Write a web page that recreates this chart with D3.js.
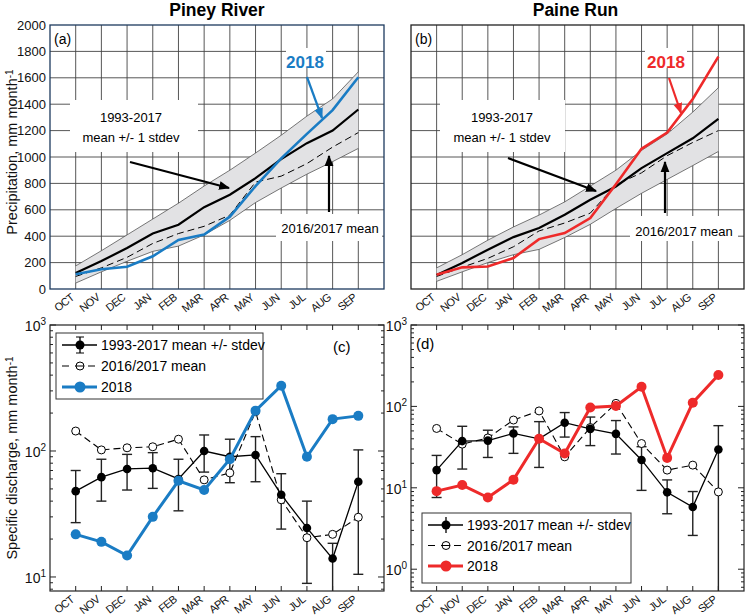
<!DOCTYPE html>
<html>
<head>
<meta charset="utf-8">
<script src="https://cdn.jsdelivr.net/npm/d3@7"></script>
<style>
  body { margin: 0; background: #fff; }
  svg { display: block; font-family: "Liberation Sans", Arial, sans-serif; }
</style>
</head>
<body>
<div id="chart"></div>
<script>
var months = ["OCT","NOV","DEC","JAN","FEB","MAR","APR","MAY","JUN","JUL","AUG","SEP"];

// cumulative precipitation, mm
var pineyMean = [121, 212, 310, 420, 487, 620, 714, 840, 984, 1105, 1200, 1360];
var pineyUp   = [175, 290, 410, 530, 650, 780, 900, 1030, 1165, 1310, 1440, 1645];
var pineyLo   = [45, 130, 210, 285, 325, 410, 520, 655, 765, 870, 965, 1065];
var piney1617 = [95, 160, 240, 345, 420, 475, 560, 810, 855, 950, 1075, 1185];
var piney2018 = [112, 150, 168, 248, 372, 412, 548, 780, 990, 1175, 1355, 1604];

var paineMean = [106, 197, 298, 393, 462, 562, 676, 777, 916, 1029, 1142, 1289];
var paineUp   = [160, 260, 370, 470, 560, 660, 780, 900, 1050, 1175, 1340, 1525];
var paineLo   = [58, 130, 200, 260, 300, 390, 490, 610, 725, 830, 935, 1042];
var paine1617 = [95, 165, 232, 320, 440, 500, 575, 790, 880, 1010, 1110, 1200];
var paine2018 = [108, 164, 171, 235, 378, 424, 537, 794, 1062, 1185, 1440, 1760];

// specific discharge, mm/month
var pineyQMean = [48, 62, 72, 73, 60, 100, 90, 93, 45, 24.5, 14, 57];
var pineyQHi   = [70, 86, 94, 97, 86, 134, 124, 130, 66, 40, 18.5, 102];
var pineyQLo   = [27, 40, 49, 50.5, 33.5, 68, 56, 57, 24, 8.9, 6, 10.5];
var pineyQ1617 = [144, 102, 106, 108, 124, 59, 67, 205, 41, 20.5, 21.8, 29.8];
var pineyQ2018 = [21.8, 19, 14.8, 30, 58, 49, 86, 209, 330, 90, 179, 190];

var paineQMean = [16.5, 37.5, 38, 46.5, 40, 63, 53, 46, 22, 8.8, 5.8, 29.5];
var paineQHi   = [25, 57, 51, 56, 65, 84, 74, 67, 32, 12.5, 9, 58];
var paineQLo   = [7.6, 17, 23.6, 26.5, 17.8, 42, 33, 26, 9.3, 4.8, 2.6, 0.3];
var paineQ1617 = [53.6, 34.4, 41, 68, 88, 24, 55, 109, 35, 16.5, 19, 8.9];
var paineQ2018 = [9.1, 10.8, 7.6, 12.6, 40, 26.4, 97, 101, 174, 23.3, 111, 243];

var precipTicks = d3.range(0, 2001, 200);
var blue = "#1a7cc4", red = "#ee2a2a";

var svg = d3.select("#chart").append("svg")
  .attr("width", 746).attr("height", 616);

var defs = svg.append("defs");

function monthAxis(g, x, y0) {
  g.selectAll(".mlab")
    .data(months)
    .enter().append("text")
      .attr("class", "mlab")
      .attr("transform", function(d, i) { return "translate(" + (x(i + 1) - 1) + "," + (y0 + 10) + ") rotate(-38)"; })
      .attr("text-anchor", "end")
      .attr("font-size", "11px")
      .attr("letter-spacing", "-0.7px")
      .attr("fill", "#111")
      .text(function(d) { return d; });
}

function precipPanel(o) {
  var x = d3.scaleLinear().domain([0, 13]).range([o.left, o.right]);
  var y = d3.scaleLinear().domain([0, 2000]).range([o.bottom, o.top]);
  var g = svg.append("g");

  // grid
  g.selectAll(".hg").data(precipTicks.slice(1, -1)).enter().append("line")
    .attr("x1", o.left).attr("x2", o.right)
    .attr("y1", function(d) { return y(d); }).attr("y2", function(d) { return y(d); })
    .attr("stroke", "#444").attr("stroke-width", 0.9);
  g.selectAll(".vg").data(d3.range(1, 13)).enter().append("line")
    .attr("y1", o.top).attr("y2", o.bottom)
    .attr("x1", function(d) { return x(d); }).attr("x2", function(d) { return x(d); })
    .attr("stroke", "#444").attr("stroke-width", 0.9);

  // white boxes behind annotations
  o.boxes.forEach(function(b) {
    g.append("rect").attr("x", b[0]).attr("y", b[1]).attr("width", b[2]).attr("height", b[3]).attr("fill", "#fff");
  });

  var idx = d3.range(12);
  var band = d3.area()
    .x(function(i) { return x(i + 1); })
    .y0(function(i) { return y(o.lo[i]); })
    .y1(function(i) { return y(o.up[i]); });
  g.append("path").datum(idx).attr("d", band).attr("fill", "#e2e2e4");
  [o.lo, o.up].forEach(function(s) {
    g.append("path").datum(idx)
      .attr("d", d3.line().x(function(i) { return x(i + 1); }).y(function(i) { return y(s[i]); }))
      .attr("fill", "none").attr("stroke", "#555").attr("stroke-width", 0.8);
  });
  g.append("path").datum(idx)
    .attr("d", d3.line().x(function(i) { return x(i + 1); }).y(function(i) { return y(o.mean[i]); }))
    .attr("fill", "none").attr("stroke", "#000").attr("stroke-width", 2.2);
  g.append("path").datum(idx)
    .attr("d", d3.line().x(function(i) { return x(i + 1); }).y(function(i) { return y(o.prev[i]); }))
    .attr("fill", "none").attr("stroke", "#000").attr("stroke-width", 1).attr("stroke-dasharray", "7,4");
  g.append("path").datum(idx)
    .attr("d", d3.line().x(function(i) { return x(i + 1); }).y(function(i) { return y(o.cur[i]); }))
    .attr("fill", "none").attr("stroke", o.color).attr("stroke-width", 2.6);

  // frame
  g.append("rect").attr("x", o.left).attr("y", o.top)
    .attr("width", o.right - o.left).attr("height", o.bottom - o.top)
    .attr("fill", "none").attr("stroke", o.frame).attr("stroke-width", 1.3);

  if (o.yLabels) {
    var ax = g.append("g").attr("transform", "translate(" + o.left + ",0)")
      .call(d3.axisLeft(y).tickValues(precipTicks).tickFormat(d3.format("d")).tickSize(0).tickPadding(4));
    ax.select(".domain").remove();
    ax.selectAll("text").attr("font-size", "13px").attr("fill", "#111")
      .attr("font-family", "\"Liberation Sans\", Arial, sans-serif");
    var yl = svg.append("text")
      .attr("transform", "translate(17," + ((o.top + o.bottom) / 2 - 5) + ") rotate(-90)")
      .attr("text-anchor", "middle").attr("font-size", "14.5px").attr("fill", "#111");
    yl.append("tspan").text("Precipitation, mm month");
    yl.append("tspan").attr("dy", "-0.45em").attr("font-size", "10px").text("-1");
  }
  monthAxis(g, x, o.bottom);

  g.append("text").attr("x", (o.left + o.right) / 2 + o.titleDx).attr("y", 16)
    .attr("text-anchor", "middle").attr("font-size", "17.5px").attr("font-weight", "bold")
    .text(o.title);
  g.append("text").attr("x", o.left + 4).attr("y", o.top + 19)
    .attr("font-size", "14px").text(o.tag);

  // annotations
  var a = o.ann;
  g.append("text").attr("x", a.tx).attr("y", a.ty).attr("text-anchor", "middle")
    .attr("font-size", "13px").text("1993-2017");
  g.append("text").attr("x", a.tx).attr("y", a.ty + 20).attr("text-anchor", "middle")
    .attr("font-size", "13px").text("mean +/- 1 stdev");
  g.append("text").attr("x", a.px).attr("y", a.py).attr("text-anchor", "middle")
    .attr("font-size", "13px").text("2016/2017 mean");
  g.append("text").attr("x", a.cx).attr("y", a.cy).attr("text-anchor", "middle")
    .attr("font-size", "17px").attr("font-weight", "bold").attr("fill", o.color).text("2018");
  arrow(g, a.a1, "#000", 2.2);
  arrow(g, a.a2, "#000", 2.2);
  arrow(g, a.a3, o.color, 2.2);
}

function arrow(g, p, color, w) {
  var id = "ah" + Math.round(p[0]) + "_" + Math.round(p[1]);
  defs.append("marker").attr("id", id).attr("viewBox", "0 0 10 10").attr("refX", 9).attr("refY", 5)
    .attr("markerWidth", 5).attr("markerHeight", 5).attr("markerUnits", "strokeWidth").attr("orient", "auto")
    .append("path").attr("d", "M0,1 L10,5 L0,9 Z").attr("fill", color);
  g.append("line").attr("x1", p[0]).attr("y1", p[1]).attr("x2", p[2]).attr("y2", p[3])
    .attr("stroke", color).attr("stroke-width", w).attr("marker-end", "url(#" + id + ")");
}

function flowPanel(o) {
  var x = d3.scaleLinear().domain([0, 13]).range([o.left, o.right]);
  var y = d3.scaleLog().domain(o.domain).range([o.bottom, o.top]);
  var g = svg.append("g");
  var cid = "clip" + o.tag.replace(/\W/g, "");
  defs.append("clipPath").attr("id", cid).append("rect")
    .attr("x", o.left).attr("y", o.top).attr("width", o.right - o.left).attr("height", o.bottom - o.top);
  var pg = g.append("g").attr("clip-path", "url(#" + cid + ")");
  var idx = d3.range(12);

  // ticks, major + minor
  var minor = [];
  var lo = Math.floor(Math.log10(o.domain[0])), hi = Math.ceil(Math.log10(o.domain[1]));
  for (var e = lo; e < hi; e++) for (var k = 1; k < 10; k++) {
    var v = k * Math.pow(10, e);
    if (v >= o.domain[0] && v <= o.domain[1]) minor.push(v);
  }
  minor.push(o.domain[1]);
  minor.forEach(function(v) {
    var len = (Math.abs(Math.log10(v) - Math.round(Math.log10(v))) < 1e-9) ? 6 : 3;
    g.append("line").attr("x1", o.left).attr("x2", o.left + len).attr("y1", y(v)).attr("y2", y(v)).attr("stroke", "#222");
    g.append("line").attr("x1", o.right).attr("x2", o.right - len).attr("y1", y(v)).attr("y2", y(v)).attr("stroke", "#222");
  });
  idx.forEach(function(i) {
    g.append("line").attr("x1", x(i + 1)).attr("x2", x(i + 1)).attr("y1", o.bottom).attr("y2", o.bottom - 5).attr("stroke", "#222");
    g.append("line").attr("x1", x(i + 1)).attr("x2", x(i + 1)).attr("y1", o.top).attr("y2", o.top + 5).attr("stroke", "#222");
  });
  o.decades.forEach(function(d) {
    var t = g.append("text").attr("x", o.left - 4).attr("y", y(Math.pow(10, d)) + 6)
      .attr("text-anchor", "end").attr("font-size", "14px").attr("fill", "#111");
    t.append("tspan").text("10");
    t.append("tspan").attr("dy", "-0.6em").attr("font-size", "10px").text(d);
  });

  // error bars
  idx.forEach(function(i) {
    var cx = x(i + 1);
    pg.append("line").attr("x1", cx).attr("x2", cx).attr("y1", y(o.hi[i])).attr("y2", y(Math.max(o.lo[i], 1e-3)))
      .attr("stroke", "#222").attr("stroke-width", 1.4);
    [o.hi[i], o.lo[i]].forEach(function(v) {
      pg.append("line").attr("x1", cx - 5).attr("x2", cx + 5).attr("y1", y(Math.max(v, 1e-3))).attr("y2", y(Math.max(v, 1e-3)))
        .attr("stroke", "#222").attr("stroke-width", 1.4);
    });
  });

  function ln(s) { return d3.line().x(function(i) { return x(i + 1); }).y(function(i) { return y(s[i]); }); }
  pg.append("path").datum(idx).attr("d", ln(o.prev)).attr("fill", "none")
    .attr("stroke", "#000").attr("stroke-width", 1.1).attr("stroke-dasharray", "7,4");
  pg.selectAll(".po").data(idx).enter().append("circle")
    .attr("cx", function(i) { return x(i + 1); }).attr("cy", function(i) { return y(o.prev[i]); })
    .attr("r", 4).attr("fill", "#fff").attr("stroke", "#000").attr("stroke-width", 1);
  pg.append("path").datum(idx).attr("d", ln(o.mean)).attr("fill", "none")
    .attr("stroke", "#000").attr("stroke-width", 1.3);
  pg.selectAll(".mo").data(idx).enter().append("circle")
    .attr("cx", function(i) { return x(i + 1); }).attr("cy", function(i) { return y(o.mean[i]); })
    .attr("r", 4.3).attr("fill", "#000");
  pg.append("path").datum(idx).attr("d", ln(o.cur)).attr("fill", "none")
    .attr("stroke", o.color).attr("stroke-width", 3);
  pg.selectAll(".co").data(idx).enter().append("circle")
    .attr("cx", function(i) { return x(i + 1); }).attr("cy", function(i) { return y(o.cur[i]); })
    .attr("r", 5).attr("fill", o.color);

  g.append("rect").attr("x", o.left).attr("y", o.top)
    .attr("width", o.right - o.left).attr("height", o.bottom - o.top)
    .attr("fill", "none").attr("stroke", "#222").attr("stroke-width", 1.2);
  monthAxis(g, x, o.bottom);

  g.append("text").attr("x", o.tagX).attr("y", o.tagY).attr("font-size", "15px").text(o.tag);

  // legend
  var L = o.legend;
  g.append("rect").attr("x", L.x).attr("y", L.y).attr("width", L.w).attr("height", L.h)
    .attr("fill", "#fff").attr("stroke", "#333").attr("stroke-width", 1);
  var lx0 = L.x + 6, lx1 = L.x + 41, lm = L.x + 24;
  var rows = ["1993-2017 mean +/- stdev", "2016/2017 mean", "2018"];
  rows.forEach(function(r, i) {
    var yy = L.y + 12 + i * L.step;
    if (i === 0) {
      g.append("line").attr("x1", lx0).attr("x2", lx1).attr("y1", yy).attr("y2", yy).attr("stroke", "#000").attr("stroke-width", 1.3);
      g.append("line").attr("x1", lm).attr("x2", lm).attr("y1", yy - 8).attr("y2", yy + 8).attr("stroke", "#000").attr("stroke-width", 1.3);
      if (L.caps) {
        g.append("line").attr("x1", lm - 4).attr("x2", lm + 4).attr("y1", yy - 8).attr("y2", yy - 8).attr("stroke", "#000");
        g.append("line").attr("x1", lm - 4).attr("x2", lm + 4).attr("y1", yy + 8).attr("y2", yy + 8).attr("stroke", "#000");
      }
      g.append("circle").attr("cx", lm).attr("cy", yy).attr("r", 4.5).attr("fill", "#000");
    } else if (i === 1) {
      g.append("line").attr("x1", lx0).attr("x2", lx1).attr("y1", yy).attr("y2", yy).attr("stroke", "#000")
        .attr("stroke-width", 1.1).attr("stroke-dasharray", "7,6");
      g.append("circle").attr("cx", lm).attr("cy", yy).attr("r", 4).attr("fill", "#fff").attr("stroke", "#000");
      g.append("line").attr("x1", lm - 4).attr("x2", lm + 4).attr("y1", yy).attr("y2", yy).attr("stroke", "#000");
    } else {
      g.append("line").attr("x1", lx0).attr("x2", lx1).attr("y1", yy).attr("y2", yy).attr("stroke", o.color).attr("stroke-width", 3);
      g.append("circle").attr("cx", lm).attr("cy", yy).attr("r", 5.5).attr("fill", o.color);
    }
    g.append("text").attr("x", L.x + 45).attr("y", yy + 5).attr("font-size", "14px").text(r);
  });

  if (o.yLabel) {
    var yl = svg.append("text")
      .attr("transform", "translate(17," + ((o.top + o.bottom) / 2) + ") rotate(-90)")
      .attr("text-anchor", "middle").attr("font-size", "14.5px").attr("fill", "#111");
    yl.append("tspan").text("Specific discharge, mm month");
    yl.append("tspan").attr("dy", "-0.45em").attr("font-size", "10px").text("-1");
  }
}

precipPanel({
  left: 50, right: 384, top: 25, bottom: 289, title: "Piney River", titleDx: 0, tag: "(a)",
  frame: "#1d3a5e", yLabels: true, color: blue,
  mean: pineyMean, up: pineyUp, lo: pineyLo, prev: piney1617, cur: piney2018,
  boxes: [[70, 100, 128, 52], [276, 214, 106, 27], [286, 48, 40, 20]],
  ann: { tx: 131, ty: 122, px: 330, py: 233, cx: 305, cy: 68,
         a1: [130, 162, 229, 188], a2: [329, 212, 329, 156], a3: [307, 77, 322, 118] }
});
precipPanel({
  left: 411, right: 744, top: 25, bottom: 289, title: "Paine Run", titleDx: -2, tag: "(b)",
  frame: "#222", yLabels: false, color: red,
  mean: paineMean, up: paineUp, lo: paineLo, prev: paine1617, cur: paine2018,
  boxes: [[440, 100, 125, 52], [630, 216, 108, 25], [645, 48, 42, 20]],
  ann: { tx: 502, ty: 122, px: 684, py: 236, cx: 666, cy: 68,
         a1: [508, 158, 596, 191], a2: [665, 213, 665, 162], a3: [669, 78, 681, 113] }
});
flowPanel({
  left: 50, right: 384, top: 325, bottom: 591, domain: [7.74, 1000], decades: [1, 2, 3],
  color: blue, tag: "(c)", tagX: 333, tagY: 352, yLabel: true,
  mean: pineyQMean, hi: pineyQHi, lo: pineyQLo, prev: pineyQ1617, cur: pineyQ2018,
  legend: { x: 56, y: 333, w: 207, h: 66, step: 21, caps: true }
});
flowPanel({
  left: 411, right: 744, top: 325, bottom: 591, domain: [0.54, 1000], decades: [0, 1, 2, 3],
  color: red, tag: "(d)", tagX: 416, tagY: 349, yLabel: false,
  mean: paineQMean, hi: paineQHi, lo: paineQLo, prev: paineQ1617, cur: paineQ2018,
  legend: { x: 422, y: 513, w: 209, h: 70, step: 20.5, caps: false }
});
</script>
</body>
</html>
